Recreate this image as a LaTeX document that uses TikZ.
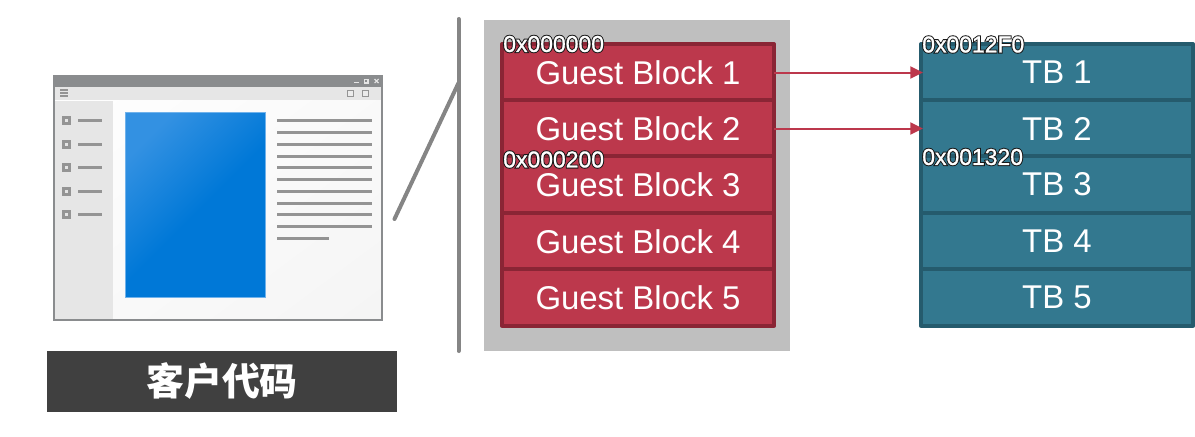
\documentclass[tikz,border=0pt]{standalone}
\usepackage{fontspec}
\setmainfont{Liberation Sans}
\newfontfamily\cjkfont{Noto Sans CJK SC}
\usepackage{tikz}
\usetikzlibrary{calc}
\usetikzlibrary{arrows.meta}
\usetikzlibrary{shadings}

\definecolor{guestfill}{HTML}{BC384C}
\definecolor{guestedge}{HTML}{8A2535}
\definecolor{tbfill}{HTML}{33788F}
\definecolor{tbedge}{HTML}{255B6D}
\definecolor{wingray}{HTML}{8A8C8E}
\definecolor{winpale}{HTML}{E6E6E6}
\definecolor{linegray}{HTML}{949494}
\definecolor{panelight}{HTML}{3391E2}
\definecolor{panedark}{HTML}{0078D7}

\pgfdeclarehorizontalshading{paneshade}{100bp}{color(0bp)=(panelight); color(25bp)=(panelight); color(52bp)=(panedark); color(100bp)=(panedark)}

\newcommand{\addrtext}[1]{\rlap{\special{pdf:code q 2 Tr 1.7 w 0.1 0.1 0.1 RG}#1\special{pdf:code Q}}\special{pdf:code q 2 Tr 0.2 w 1 1 1 RG}#1\special{pdf:code Q}}

\tikzset{
  guestblock/.style={draw=guestedge,fill=guestfill,line width=3pt,line join=round,text=white,minimum width=204pt,minimum height=42.3pt,inner sep=0pt,outer sep=0pt,font=\fontsize{24.7pt}{28pt}\selectfont},
  tbblock/.style={guestblock,draw=tbedge,fill=tbfill},
  addr/.style={anchor=west,inner sep=0pt,text=white,font=\fontsize{17.2pt}{20pt}\selectfont},
  maplink/.style={draw=guestfill,line width=1.5pt,-{Triangle[length=9.5pt,width=9pt]},shorten >=-1.5pt},
  divider/.style={draw=linegray!90!black,line width=3pt,line cap=round},
  listline/.style={draw=linegray,line width=1.9pt},
  listicon/.style={fill=linegray,draw=none},
  icondot/.style={fill=white!75!linegray,draw=none}
}

\begin{document}
\begin{tikzpicture}[x=0.75pt,y=-0.75pt]
\useasboundingbox (0,0) rectangle (1195,436);
% window
\shade [upper left=white,lower right=white!96!black,upper right=white!98!black,lower left=white!98!black] (54,76) rectangle (382,320);
\fill [winpale] (54,101) rectangle (113,320);
\fill [winpale] (54,87) rectangle (382,100);
\fill [wingray] (53,75) rectangle (383,87);
\draw [wingray,line width=1.3pt] (53.7,75.7) rectangle (382.3,320.3);
\draw [white!90!black,line width=0.8pt] (354,82.5) -- (358.5,82.5);
\draw [white!90!black,line width=0.8pt] (364.5,79.5) rectangle (368,83);
\draw [white!90!black,line width=0.8pt] (374.5,79) -- (378.5,83) (378.5,79) -- (374.5,83);
\draw [linegray,line width=0.8pt] (60,90) -- (68,90) (60,93) -- (68,93) (60,96) -- (68,96);
\draw [linegray,line width=1.2pt,fill=white!92!black] (347.5,90.5) rectangle (353.5,96.5);
\draw [linegray,line width=1.2pt,fill=white!92!black] (362.5,90.5) rectangle (368.5,96.5);
% sidebar
\fill [listicon] (62,116) rectangle (71,125);
\fill [listicon] (62,140) rectangle (71,149);
\fill [listicon] (62,163) rectangle (71,172);
\fill [listicon] (62,187) rectangle (71,196);
\fill [listicon] (62,210) rectangle (71,219);
\fill [icondot] (65,119) rectangle (68,122);
\fill [icondot] (65,143) rectangle (68,146);
\fill [icondot] (65,166) rectangle (68,169);
\fill [icondot] (65,190) rectangle (68,193);
\fill [icondot] (65,213) rectangle (68,216);
\draw [listline] (78,120.5) -- (102,120.5);
\draw [listline] (78,144.5) -- (102,144.5);
\draw [listline] (78,167.5) -- (102,167.5);
\draw [listline] (78,191.5) -- (102,191.5);
\draw [listline] (78,214.5) -- (102,214.5);
% picture pane
\draw [shading=paneshade,shading angle=-45,draw=panelight!70!white,line width=0.6pt] (125,112) rectangle (265,297);
% text lines
\draw [listline] (277,120.5) -- (371.7,120.5);
\draw [listline] (277,132.5) -- (371.7,132.5);
\draw [listline] (277,144.5) -- (371.7,144.5);
\draw [listline] (277,156.5) -- (371.7,156.5);
\draw [listline] (277,167.5) -- (371.7,167.5);
\draw [listline] (277,179.5) -- (371.7,179.5);
\draw [listline] (277,191.5) -- (371.7,191.5);
\draw [listline] (277,203.5) -- (371.7,203.5);
\draw [listline] (277,214.5) -- (371.7,214.5);
\draw [listline] (277,226.5) -- (371.7,226.5);
\draw [listline] (277,238.5) -- (328.7,238.5);
% caption
\node (caption) at (222,381.5) [fill=black!75,text=white,minimum width=262.5pt,minimum height=45.75pt,inner sep=0pt,font=\cjkfont\bfseries\fontsize{28.4pt}{30pt}\selectfont] {客户代码};
% zoom lines
\coordinate (zoomtop) at (458.5,19);
\coordinate (zoomknee) at (458.5,83);
\coordinate (zoombot) at (458.5,351);
\coordinate (zoomfoot) at (394.5,219);
\draw [divider] (zoomtop) -- (zoombot);
\draw [divider] (zoomfoot) -- (zoomknee);
% guest blocks
\fill [black!25] (484,20) rectangle (790,351);
\node (G1) at (638,72.5) [guestblock] {Guest Block 1};
\node (G2) at (638,128.5) [guestblock] {Guest Block 2};
\node (G3) at (638,184.5) [guestblock] {Guest Block 3};
\node (G4) at (638,241.5) [guestblock] {Guest Block 4};
\node (G5) at (638,297.5) [guestblock] {Guest Block 5};
% translated blocks
\node (T1) at (1057,72.5) [tbblock] {TB 1};
\node (T2) at (1057,128.5) [tbblock] {TB 2};
\node (T3) at (1057,184.5) [tbblock] {TB 3};
\node (T4) at (1057,241.5) [tbblock] {TB 4};
\node (T5) at (1057,297.5) [tbblock] {TB 5};
\draw [maplink] (G1) -- (T1);
\draw [maplink] (G2) -- (T2);
% addresses
\node (A1) at (503,44) [addr] {\addrtext{0x000000}};
\node (A2) at (503,159.5) [addr] {\addrtext{0x000200}};
\node (A3) at (922,44.5) [addr] {\addrtext{0x0012F0}};
\node (A4) at (922,157) [addr] {\addrtext{0x001320}};
\end{tikzpicture}
\end{document}
